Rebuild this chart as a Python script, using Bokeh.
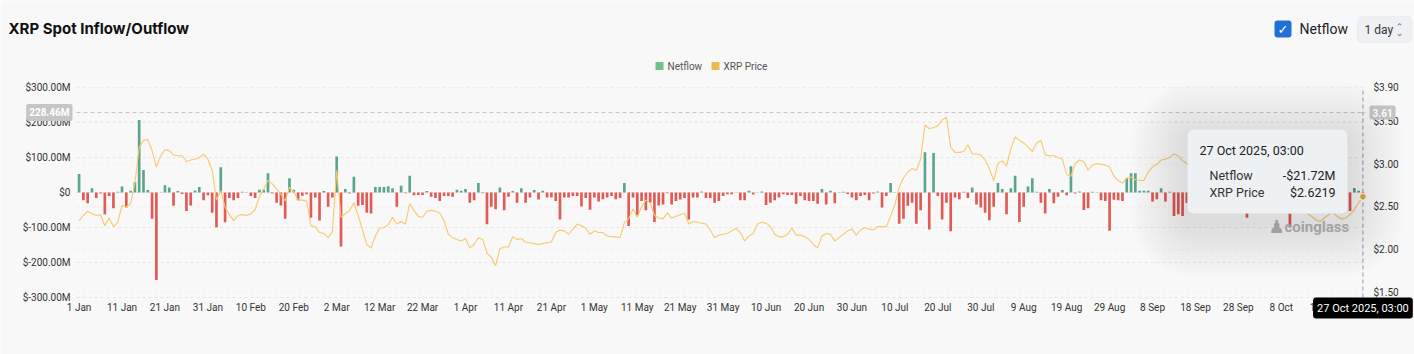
from bokeh.plotting import figure
from bokeh.models import Range1d, LinearAxis, FixedTicker, Label, BoxAnnotation, ColumnDataSource
from bokeh.embed import file_html
from bokeh.resources import INLINE

# ---------------- data ----------------
days = list(range(300))
tick_days = list(range(0, 300, 10))
tick_labels = ["1 Jan", "11 Jan", "21 Jan", "31 Jan", "10 Feb", "20 Feb", "2 Mar", "12 Mar", "22 Mar",
               "1 Apr", "11 Apr", "21 Apr", "1 May", "11 May", "21 May", "31 May", "10 Jun", "20 Jun",
               "30 Jun", "10 Jul", "20 Jul", "30 Jul", "9 Aug", "19 Aug", "29 Aug", "8 Sep", "18 Sep",
               "28 Sep", "8 Oct", "18 Oct"]
flow_ticks = [300, 200, 100, 0, -100, -200, -300]
flow_tick_labels = ["$300.00M", "$200.00M", "$100.00M", "$0", "$-100.00M", "$-200.00M", "$-300.00M"]
price_ticks = [3.9, 3.5, 3.0, 2.5, 2.0, 1.5]
price_tick_labels = ["$3.90", "$3.50", "$3.00", "$2.50", "$2.00", "$1.50"]

netflow = [
    53, -22, -31, 12, -16, -3, -62, -10, -45, 2,
    17, -43, 5, 29, 207, 64, 7, -75, -250, 1,
    21, 14, -38, 4, -4, -53, -37, 6, 16, -22,
    -8, -58, -99, 72, -85, -16, -22, -16, 2, 1,
    -10, -16, 8, 8, 55, -3, -29, -37, -75, 41,
    8, -22, -9, -5, -72, -14, -80, 4, -41, -14,
    103, -154, 10, -3, 45, -38, -36, -58, -60, 16,
    16, 16, 18, 12, -41, 19, -2, 48, -8, -7,
    -7, 4, -12, -16, -24, -10, -10, -12, 8, 5,
    10, -29, -22, 27, -2, -91, -41, -48, 14, -51,
    -12, 4, -29, 12, -29, -14, 7, -20, 5, -14,
    -14, -24, -77, -14, -14, -10, -10, -40, -16, -49,
    -14, -26, -19, -14, -10, -19, -16, 27, -96, -14,
    -65, -24, -51, -29, -84, -37, -34, -2, -34, -24,
    -20, -16, -77, -14, -14, 3, -16, -16, -29, -24,
    -10, -5, -5, 1, -22, -22, 5, -6, 1, 3,
    -36, -29, -22, -14, -5, -7, -7, -32, -10, -22,
    -24, -24, -32, 10, -34, 5, -31, 1, 2, -4,
    -14, -22, -10, -7, -22, -3, 3, -43, -10, 27,
    1, -89, -75, -38, -29, -89, -51, 115, -106, 113,
    -10, -77, -29, -111, -14, -19, 2, -16, 14, -34,
    -43, -58, -79, -41, 27, 10, -62, 12, 48, -84,
    -41, 17, 41, 2, -29, -60, 10, -31, -12, 7,
    -8, 75, -3, 3, -50, -45, 2, 1, -22, -24,
    -109, -21, -22, -24, 41, 55, 55, 5, 5, 5,
    -26, -19, 12, -26, 2, -67, -62, -67, -30, 12,
    -18, -25, 8, -40, -12, -35, 15, -20, -28, 6,
    -15, -45, -72, -20, -10, 18, -35, -25, 9, -18,
    -30, -42, -99, -38, -15, 10, -25, -32, -12, 14,
    -20, -40, -8, -26, 5, -30, -53, 13, 5, -21.72,
]

price = [
    2.34, 2.40, 2.45, 2.42, 2.40, 2.41, 2.28, 2.37, 2.27, 2.32,
    2.52, 2.50, 2.54, 2.78, 3.20, 3.28, 3.29, 3.16, 2.97, 3.10,
    3.17, 3.16, 3.11, 3.10, 3.10, 3.03, 3.05, 3.06, 3.08, 3.12,
    3.06, 2.93, 2.58, 2.69, 2.50, 2.41, 2.34, 2.40, 2.41, 2.40,
    2.42, 2.47, 2.62, 2.71, 2.81, 2.77, 2.71, 2.65, 2.57, 2.73,
    2.68, 2.58, 2.58, 2.57, 2.28, 2.27, 2.20, 2.19, 2.14, 2.21,
    2.93, 2.38, 2.42, 2.46, 2.55, 2.40, 2.23, 2.06, 2.02, 2.16,
    2.25, 2.26, 2.29, 2.38, 2.30, 2.33, 2.30, 2.54, 2.46, 2.39,
    2.38, 2.45, 2.46, 2.45, 2.43, 2.34, 2.18, 2.14, 2.12, 2.10,
    2.13, 2.02, 2.06, 2.14, 2.12, 1.96, 1.91, 1.81, 2.01, 2.03,
    2.03, 2.15, 2.12, 2.13, 2.09, 2.08, 2.07, 2.06, 2.07, 2.08,
    2.09, 2.20, 2.23, 2.22, 2.18, 2.24, 2.30, 2.28, 2.25, 2.18,
    2.22, 2.20, 2.20, 2.16, 2.15, 2.15, 2.14, 2.32, 2.36, 2.48,
    2.38, 2.50, 2.58, 2.55, 2.40, 2.37, 2.36, 2.43, 2.37, 2.39,
    2.41, 2.43, 2.30, 2.33, 2.32, 2.31, 2.30, 2.23, 2.14, 2.17,
    2.18, 2.19, 2.22, 2.25, 2.20, 2.10, 2.16, 2.19, 2.30, 2.32,
    2.31, 2.27, 2.18, 2.15, 2.15, 2.18, 2.25, 2.17, 2.17, 2.15,
    2.12, 2.06, 2.02, 2.16, 2.19, 2.18, 2.10, 2.14, 2.18, 2.22,
    2.24, 2.17, 2.23, 2.26, 2.24, 2.23, 2.27, 2.27, 2.27, 2.39,
    2.53, 2.73, 2.84, 2.91, 2.95, 2.93, 3.06, 3.46, 3.42, 3.43,
    3.45, 3.52, 3.55, 3.20, 3.14, 3.14, 3.15, 3.23, 3.12, 3.12,
    3.11, 3.05, 2.95, 2.81, 3.01, 3.04, 2.98, 3.18, 3.32, 3.28,
    3.25, 3.20, 3.15, 3.25, 3.28, 3.11, 3.10, 3.10, 3.08, 3.06,
    2.88, 2.86, 3.01, 3.05, 3.03, 2.93, 2.99, 3.01, 3.00, 2.99,
    2.97, 2.86, 2.81, 2.78, 2.84, 2.85, 2.82, 2.81, 2.81, 2.91,
    2.97, 3.00, 3.05, 3.06, 3.08, 3.12, 3.10, 3.04, 3.01, 2.98,
    2.96, 2.98, 3.00, 2.94, 2.87, 2.84, 2.86, 2.80, 2.83, 2.85,
    2.89, 2.94, 2.98, 3.00, 2.97, 2.95, 2.88, 2.84, 2.81, 2.78,
    2.72, 2.76, 2.42, 2.47, 2.49, 2.47, 2.43, 2.39, 2.35, 2.33,
    2.37, 2.41, 2.44, 2.39, 2.36, 2.37, 2.41, 2.47, 2.55, 2.6219,
]
assert len(netflow) == 300 and len(price) == 300, (len(netflow), len(price))

hover_day = 299
hover_date = "27 Oct 2025, 03:00"
cross_flow = 228.46
cross_price = 3.61

# ---------------- style / geometry ----------------
BG = "#f8f8f8"
GREEN = "#5ca58d"
RED = "#e05a56"
LINE = "#f6c96c"
FONT = "Roboto"

W, H = 1414, 354
FL, FR, FT, FB = 76, 1365, 87, 297        # plot area inside the canvas (pixels)
X0, X1 = -0.6, 299.6                       # day range over the plot area
Y0, Y1 = -300, 300                         # netflow range over the plot area
P0, P1 = 1.439, 3.90                       # price range over the plot area

XPX = (FR - FL) / (X1 - X0)
YPX = (FB - FT) / (Y1 - Y0)
PPX = (FB - FT) / (P1 - P0)


def dx(px):
    return X0 + (px - FL) / XPX


def dy(py):
    return Y0 + (FB - py) / YPX


def dp(py):
    return P0 + (FB - py) / PPX


p = figure(width=W, height=H, x_range=Range1d(dx(0), dx(W)), y_range=Range1d(dy(H), dy(0)),
           output_backend="svg", toolbar_location=None,
           min_border=0, min_border_left=0, min_border_right=0, min_border_top=0, min_border_bottom=0,
           background_fill_color=BG, border_fill_color=BG, outline_line_color=None)
p.title.visible = False
p.extra_y_ranges = {"price": Range1d(dp(H), dp(0))}

# axes (drawn at the edges of the plot area)
p.xaxis.ticker = FixedTicker(ticks=tick_days)
p.xaxis.major_label_overrides = dict(zip(tick_days, tick_labels))
p.xaxis.fixed_location = Y0
p.yaxis.ticker = FixedTicker(ticks=flow_ticks)
p.yaxis.major_label_overrides = dict(zip(flow_ticks, flow_tick_labels))
p.yaxis.fixed_location = X0
ra = LinearAxis(y_range_name="price", ticker=FixedTicker(ticks=price_ticks),
                major_label_overrides=dict(zip(price_ticks, price_tick_labels)), fixed_location=X1)
p.add_layout(ra, "right")

for ax in [p.xaxis[0], p.yaxis[0], ra]:
    ax.axis_line_color = None
    ax.major_tick_line_color = None
    ax.minor_tick_line_color = None
    ax.major_tick_out = 0
    ax.major_tick_in = 0
    ax.major_label_text_font = FONT
    ax.major_label_text_font_size = "10px"
    ax.major_label_text_color = "#333333"
p.xaxis.major_label_standoff = 4
p.yaxis.major_label_standoff = 6
ra.major_label_standoff = 8

# grid lines
p.xgrid.visible = False
p.ygrid.visible = False
p.segment(x0=X0, x1=X1, y0=flow_ticks, y1=flow_ticks, line_color="#e6e6e6", line_dash="3 3", line_width=1)
p.segment(x0=X0, x1=X1, y0=price_ticks, y1=price_ticks, y_range_name="price", line_color="#eeeeee",
          line_dash="3 3", line_width=1)

# bars + line
colors = [GREEN if v >= 0 else RED for v in netflow]
src = ColumnDataSource(dict(day=days, flow=netflow, color=colors))
p.vbar(x="day", top="flow", bottom=0, width=0.62, fill_color="color", line_color=None, source=src)
p.line(days, price, y_range_name="price", line_color=LINE, line_width=1.1)
p.scatter([hover_day], [price[-1]], y_range_name="price", size=7, fill_color="#f0b948",
          line_color="#ffffff", line_width=1)

# crosshair
p.segment(x0=[hover_day], x1=[hover_day], y0=[Y0], y1=[Y1], line_color="#9a9a9a", line_dash="4 3", line_width=1)
p.segment(x0=[X0], x1=[X1], y0=[cross_flow], y1=[cross_flow], line_color="#c4c4c4", line_dash="4 3",
          line_width=1)
p.add_layout(Label(x=dx(72), y=cross_flow, text=f"{cross_flow:.2f}M", text_align="right", text_baseline="middle",
                   text_font=FONT, text_font_size="10px", text_color="white", text_font_style="bold",
                   background_fill_color="#c6c6c6", padding=3, border_radius=2))
p.add_layout(Label(x=dx(1369), y=cross_flow, text=f"{cross_price:.2f}", text_align="left", text_baseline="middle",
                   text_font=FONT, text_font_size="10px", text_color="white", text_font_style="bold",
                   background_fill_color="#c6c6c6", padding=3, border_radius=2))
p.add_layout(Label(x=hover_day, y=dy(307.5), text=hover_date, text_align="center", text_baseline="middle",
                   text_font=FONT, text_font_size="11px", text_color="white",
                   background_fill_color="#000000", padding=4, border_radius=3))

# watermark
p.add_layout(Label(x=dx(1268), y=dy(226), text="♟", text_align="left", text_baseline="middle",
                   text_font="DejaVu Sans", text_font_size="18px", text_color="#b9b9b9"))
p.add_layout(Label(x=dx(1284), y=dy(226), text="coinglass", text_align="left", text_baseline="middle",
                   text_font=FONT, text_font_size="15px", text_font_style="bold", text_color="#bdbdbd"))

# tooltip shadow + box
TL, TR, TT, TB = 1187, 1347, 129, 213
for k in range(14, 0, -1):
    e = 4 * k
    p.add_layout(BoxAnnotation(left=dx(TL - e), right=dx(TR + e), top=dy(TT - e + 8), bottom=dy(TB + e + 8),
                               fill_color="#000000", fill_alpha=0.009, line_color=None,
                               border_radius=6 + e, level="annotation"))
p.add_layout(BoxAnnotation(left=dx(TL), right=dx(TR), top=dy(TT), bottom=dy(TB), fill_color="#eef1f4",
                           fill_alpha=1.0, line_color="#dde0e4", line_width=1, border_radius=6, level="overlay"))
tip_font = "12.5px"
p.add_layout(Label(x=dx(1199), y=dy(150), text=hover_date, text_baseline="middle", text_font=FONT,
                   text_font_size=tip_font, text_color="#222222", level="overlay"))
p.scatter([dx(1203), dx(1203)], [dy(175), dy(192)], size=8, fill_color=[RED, "#eab444"],
          line_color=["#b84440", "#c8952f"], line_width=1, level="overlay")
flow_txt = f"-${abs(netflow[-1]):.2f}M" if netflow[-1] < 0 else f"${netflow[-1]:.2f}M"
for ypx, name, val in [(175, "Netflow", flow_txt), (192, "XRP Price", f"${price[-1]:.4f}")]:
    p.add_layout(Label(x=dx(1209), y=dy(ypx), text=name, text_baseline="middle", text_font=FONT,
                       text_font_size=tip_font, text_color="#333333", level="overlay"))
    p.add_layout(Label(x=dx(1335), y=dy(ypx), text=val, text_align="right", text_baseline="middle",
                       text_font=FONT, text_font_size=tip_font, text_color="#222222", level="overlay"))

# header
p.add_layout(Label(x=dx(8), y=dy(28), text="XRP Spot Inflow/Outflow", text_baseline="middle",
                   text_font="Inter", text_font_size="15px", text_font_style="bold", text_color="#111111"))
p.add_layout(BoxAnnotation(left=dx(1274), right=dx(1291), top=dy(20), bottom=dy(37), fill_color="#1f6fd4",
                           fill_alpha=1, line_color=None, border_radius=3))
p.add_layout(Label(x=dx(1282.5), y=dy(28.5), text="✓", text_align="center", text_baseline="middle",
                   text_font="DejaVu Sans", text_font_size="13px", text_font_style="bold", text_color="white"))
p.add_layout(Label(x=dx(1299), y=dy(28.5), text="Netflow", text_baseline="middle", text_font=FONT,
                   text_font_size="14px", text_color="#222222"))
p.add_layout(BoxAnnotation(left=dx(1357), right=dx(1411), top=dy(16), bottom=dy(42), fill_color="#eef0f3",
                           fill_alpha=1, line_color="#dcdfe3", line_width=1, border_radius=4))
p.add_layout(Label(x=dx(1364), y=dy(29), text="1 day", text_baseline="middle", text_font=FONT,
                   text_font_size="12px", text_color="#333333"))
p.add_layout(Label(x=dx(1399), y=dy(26), text="⌃", text_align="center", text_baseline="middle",
                   text_font="DejaVu Sans", text_font_size="9px", text_color="#666666"))
p.add_layout(Label(x=dx(1399), y=dy(32), text="⌄", text_align="center", text_baseline="middle",
                   text_font="DejaVu Sans", text_font_size="9px", text_color="#666666"))

# legend
for lx, col, name in [(655, "#6cc28a", "Netflow"), (711, "#ebb94f", "XRP Price")]:
    p.add_layout(BoxAnnotation(left=dx(lx), right=dx(lx + 8), top=dy(61.5), bottom=dy(69.5), fill_color=col,
                               fill_alpha=1, line_color=None))
    p.add_layout(Label(x=dx(lx + 12), y=dy(65.5), text=name, text_baseline="middle", text_font=FONT,
                       text_font_size="10px", text_color="#555555"))

open("out.html", "w").write(file_html(p, INLINE))
